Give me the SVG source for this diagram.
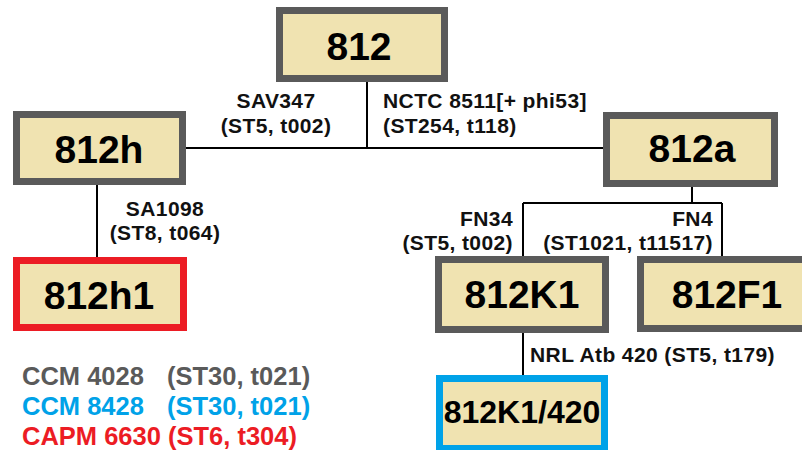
<svg xmlns="http://www.w3.org/2000/svg" width="802" height="450" viewBox="0 0 802 450">
<style>
.box{fill:#F0E3B1;stroke-width:7}
.g{stroke:#5A5A5A}
.r{stroke:#EC1C24}
.b{stroke:#00A2E8}
.big{font-family:"Liberation Sans",Arial,sans-serif;font-weight:bold;font-size:39px;fill:#000;text-anchor:middle}
.mid{font-family:"Liberation Sans",Arial,sans-serif;font-weight:bold;font-size:32px;fill:#000;text-anchor:middle}
.lbl{font-family:"Liberation Sans",Arial,sans-serif;font-weight:bold;font-size:21px;letter-spacing:0.4px;fill:#111}
.leg{font-family:"Liberation Sans",Arial,sans-serif;font-weight:bold;font-size:25.5px}
.ln{stroke:#000;stroke-width:2;fill:none}
</style>
<rect width="802" height="450" fill="#fff"/>
<g id="connectors">
<path class="ln" d="M367 82V148M186 148H603"/>
<path class="ln" d="M97 185V257"/>
<path class="ln" d="M692 187V203M523 203H722M523 203V256M722 203V256"/>
<path class="ln" d="M523 333V375"/>
</g>
<g id="labels">
<text class="lbl" x="276" y="108" text-anchor="middle">SAV347</text>
<text class="lbl" x="276" y="133" text-anchor="middle">(ST5, t002)</text>
<text class="lbl" x="383" y="108">NCTC 8511[+ phi53]</text>
<text class="lbl" x="383" y="133">(ST254, t118)</text>
<text class="lbl" x="165" y="216" text-anchor="middle">SA1098</text>
<text class="lbl" x="165" y="240" text-anchor="middle">(ST8, t064)</text>
<text class="lbl" x="513" y="226" text-anchor="end">FN34</text>
<text class="lbl" x="513" y="250" text-anchor="end">(ST5, t002)</text>
<text class="lbl" x="713" y="226" text-anchor="end">FN4</text>
<text class="lbl" x="713" y="250" text-anchor="end">(ST1021, t11517)</text>
<text class="lbl" x="530" y="362">NRL Atb 420 (ST5, t179)</text>
</g>
<g id="n812"><rect class="box g" x="279.5" y="10.5" width="165" height="68"/><text class="big" x="359" y="60">812</text></g>
<g id="n812h"><rect class="box g" x="16.5" y="114.5" width="166" height="67"/><text class="big" x="99" y="163">812h</text></g>
<g id="n812a"><rect class="box g" x="606.5" y="115.5" width="168" height="68"/><text class="big" x="692" y="162">812a</text></g>
<g id="n812h1"><rect class="box r" x="16.5" y="260.5" width="167" height="67"/><text class="big" x="99" y="309">812h1</text></g>
<g id="n812K1"><rect class="box g" x="438.5" y="259.5" width="167" height="70"/><text class="big" x="522" y="308">812K1</text></g>
<g id="n812F1"><rect class="box g" x="640.5" y="259.5" width="167" height="69"/><text class="big" x="727" y="308">812F1</text></g>
<g id="n812K1_420"><rect class="box b" x="439.5" y="378.5" width="165" height="70"/><text class="mid" x="522" y="423">812K1/420</text></g>
<g id="legend">
<text class="leg" x="22" y="385" fill="#5A5A5A">CCM 4028<tspan x="167">(ST30, t021)</tspan></text>
<text class="leg" x="22" y="415" fill="#00A2E8">CCM 8428<tspan x="167">(ST30, t021)</tspan></text>
<text class="leg" x="22" y="445" fill="#EC1C24">CAPM 6630 (ST6, t304)</text>
</g>
</svg>
